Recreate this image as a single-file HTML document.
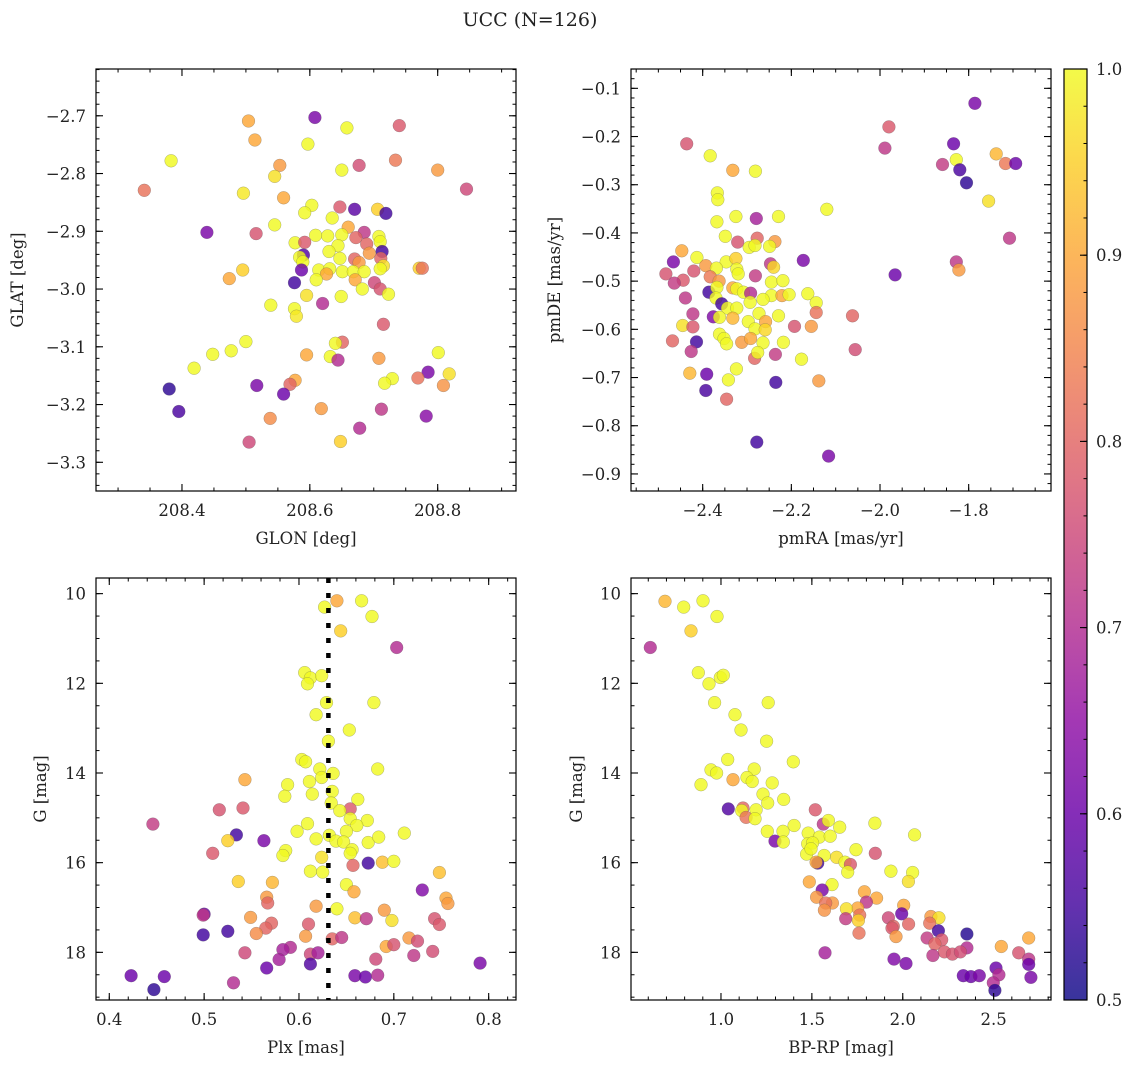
<!DOCTYPE html>
<html><head><meta charset="utf-8">
<style>
html,body{margin:0;padding:0;background:#fff;}
svg{display:block;font-family:"DejaVu Serif","Liberation Serif",serif;}
</style></head>
<body>
<svg id="fig" width="1136" height="1068" viewBox="0 0 1136 1068" xmlns="http://www.w3.org/2000/svg">
<rect width="1136" height="1068" fill="#fff"/>
<text x="530" y="26" font-size="19" text-anchor="middle" fill="#222">UCC (N=126)</text>
</svg>
<script>
// ---- Panel 1: GLON / GLAT ----
const glon = [208.504,208.608,208.658,208.740,208.514,208.597,208.383,208.734,208.553,208.677,208.8,208.650,208.545,208.845,208.341,208.496,208.559,208.603,208.647,208.670,208.706,208.719,208.592,208.635,208.545,208.660,208.439,208.516,208.685,208.609,208.650,208.628,208.708,208.672,208.577,208.592,208.710,208.689,208.644,208.630,208.713,208.590,208.693,208.584,208.647,208.670,208.711,208.589,208.677,208.715,208.771,208.776,208.587,208.614,208.631,208.651,208.668,208.685,208.710,208.626,208.671,208.495,208.474,208.610,208.576,208.701,208.710,208.682,208.723,208.595,208.649,208.620,208.539,208.576,208.579,208.715,208.5,208.651,208.640,208.801,208.448,208.477,208.595,208.632,208.644,208.708,208.419,208.818,208.785,208.769,208.729,208.717,208.809,208.577,208.569,208.380,208.517,208.559,208.395,208.618,208.712,208.782,208.538,208.678,208.505,208.648];
const glat = [-2.709,-2.703,-2.721,-2.717,-2.742,-2.749,-2.778,-2.777,-2.786,-2.786,-2.794,-2.794,-2.805,-2.827,-2.829,-2.834,-2.842,-2.855,-2.858,-2.862,-2.862,-2.869,-2.868,-2.877,-2.889,-2.893,-2.902,-2.904,-2.902,-2.907,-2.906,-2.908,-2.909,-2.911,-2.920,-2.919,-2.918,-2.922,-2.925,-2.935,-2.935,-2.941,-2.938,-2.945,-2.947,-2.948,-2.947,-2.953,-2.954,-2.960,-2.964,-2.964,-2.967,-2.967,-2.965,-2.970,-2.970,-2.970,-2.965,-2.974,-2.984,-2.967,-2.982,-2.984,-2.989,-2.989,-3.000,-3.000,-3.009,-3.011,-3.013,-3.025,-3.028,-3.034,-3.047,-3.061,-3.091,-3.092,-3.094,-3.110,-3.113,-3.107,-3.114,-3.117,-3.123,-3.120,-3.137,-3.147,-3.144,-3.154,-3.155,-3.163,-3.167,-3.158,-3.165,-3.173,-3.167,-3.182,-3.212,-3.207,-3.208,-3.220,-3.224,-3.241,-3.265,-3.264];
const prob1 = [.9,.62,1,.78,.9,1,1,.83,.88,.76,.88,1,.97,.75,.82,.98,.9,1,.78,.58,.95,.55,1,1,1,.9,.62,.77,.72,1,1,1,1,.8,1,.78,1,.8,1,1,.55,.57,.88,1,1,.8,.8,1,.88,.97,.95,.82,.6,1,1,1,1,1,1,.9,.9,.95,.9,1,.55,.75,.77,1,1,.97,1,.7,1,1,.98,.78,1,.8,1,1,1,1,.9,1,.7,.88,1,.97,.62,.82,1,1,.87,.9,.8,.53,.62,.6,.56,.88,.72,.64,.86,.7,.75,.95];

// ---- Panel 2: pmRA / pmDE ----
const pmra = [-1.786,-1.980,-1.989,-2.436,-1.834,-2.383,-1.738,-2.332,-2.281,-1.859,-1.828,-1.717,-1.694,-1.820,-1.805,-2.367,-2.366,-2.120,-1.755,-2.368,-2.325,-2.279,-2.229,-2.349,-2.321,-2.277,-2.237,-2.295,-2.282,-2.249,-1.708,-2.447,-2.466,-2.413,-2.393,-2.347,-2.325,-2.247,-2.240,-2.173,-1.828,-1.822,-2.483,-2.420,-2.369,-2.323,-2.444,-2.464,-2.383,-2.363,-2.320,-2.281,-2.245,-2.219,-1.966,-2.386,-2.368,-2.332,-2.323,-2.308,-2.292,-2.245,-2.221,-2.205,-2.163,-2.439,-2.370,-2.357,-2.293,-2.264,-2.144,-2.344,-2.323,-2.422,-2.376,-2.362,-2.332,-2.273,-2.229,-2.144,-2.062,-2.445,-2.422,-2.297,-2.258,-2.193,-2.155,-2.362,-2.282,-2.259,-2.468,-2.414,-2.352,-2.346,-2.312,-2.292,-2.264,-2.218,-2.426,-2.283,-2.276,-2.236,-2.177,-2.056,-2.324,-2.429,-2.391,-2.342,-2.235,-2.138,-2.393,-2.346,-2.278,-2.116];
const pmde = [-0.131,-0.180,-0.224,-0.215,-0.215,-0.240,-0.236,-0.270,-0.272,-0.258,-0.248,-0.256,-0.256,-0.269,-0.296,-0.317,-0.331,-0.351,-0.334,-0.377,-0.366,-0.370,-0.366,-0.407,-0.419,-0.411,-0.418,-0.430,-0.426,-0.428,-0.411,-0.437,-0.460,-0.451,-0.468,-0.460,-0.453,-0.464,-0.471,-0.457,-0.460,-0.477,-0.485,-0.479,-0.473,-0.475,-0.498,-0.504,-0.491,-0.500,-0.485,-0.489,-0.502,-0.499,-0.487,-0.523,-0.513,-0.514,-0.516,-0.523,-0.525,-0.530,-0.530,-0.528,-0.526,-0.535,-0.535,-0.547,-0.544,-0.538,-0.545,-0.556,-0.556,-0.568,-0.574,-0.575,-0.577,-0.567,-0.572,-0.565,-0.572,-0.592,-0.595,-0.584,-0.584,-0.594,-0.594,-0.610,-0.599,-0.601,-0.624,-0.626,-0.619,-0.630,-0.627,-0.619,-0.628,-0.627,-0.646,-0.660,-0.648,-0.652,-0.662,-0.642,-0.682,-0.691,-0.693,-0.705,-0.710,-0.707,-0.727,-0.745,-0.834,-0.863];
const prob2 = [.62,.78,.72,.77,.6,1,.92,.9,1,.73,1,.83,.6,.56,.53,1,1,1,.97,1,1,.68,1,1,.77,.8,.88,1,1,1,.72,.9,.62,1,.88,1,.95,.72,.96,.62,.72,.88,.77,.77,1,1,.78,.73,.83,.88,1,.73,1,1,.6,.55,1,.9,1,1,.7,1,.9,1,1,.72,1,.55,1,1,1,1,1,.72,.63,1,.92,1,1,.82,.8,.97,.78,1,.9,.77,.88,1,1,.96,.8,.55,1,1,.88,.9,1,1,.72,.8,1,.73,1,.76,1,.92,.6,1,.55,.88,.56,.8,.55,.62];

// ---- Panel 3: Plx / G ----
const plx = [0.640,0.666,0.627,0.677,0.644,0.703,0.606,0.612,0.609,0.624,0.629,0.679,0.618,0.653,0.631,0.603,0.607,0.683,0.622,0.636,0.624,0.543,0.611,0.588,0.635,0.614,0.585,0.634,0.662,0.516,0.541,0.654,0.643,0.654,0.672,0.446,0.609,0.661,0.598,0.650,0.534,0.632,0.711,0.563,0.525,0.618,0.639,0.647,0.673,0.684,0.656,0.586,0.583,0.509,0.654,0.624,0.657,0.673,0.688,0.700,0.612,0.625,0.748,0.536,0.572,0.650,0.658,0.730,0.566,0.567,0.618,0.755,0.757,0.640,0.690,0.500,0.499,0.549,0.659,0.671,0.698,0.743,0.748,0.571,0.565,0.610,0.555,0.499,0.525,0.607,0.635,0.645,0.716,0.725,0.692,0.700,0.591,0.583,0.543,0.612,0.620,0.741,0.721,0.579,0.681,0.791,0.612,0.566,0.423,0.458,0.659,0.670,0.683,0.531,0.447];
const gmag3 = [10.16,10.16,10.30,10.51,10.83,11.20,11.76,11.88,12.01,11.83,12.43,12.43,12.70,13.04,13.29,13.70,13.75,13.91,13.91,14.01,14.10,14.15,14.19,14.26,14.41,14.47,14.52,14.67,14.59,14.82,14.78,14.80,14.84,15.02,15.06,15.14,15.13,15.17,15.30,15.30,15.38,15.39,15.34,15.51,15.51,15.47,15.52,15.54,15.55,15.43,15.71,15.73,15.84,15.79,15.79,15.88,16.06,16.01,15.99,15.97,16.19,16.21,16.22,16.42,16.44,16.49,16.65,16.61,16.77,16.90,16.97,16.79,16.91,17.03,17.06,17.15,17.17,17.22,17.23,17.25,17.29,17.25,17.38,17.35,17.46,17.37,17.58,17.61,17.53,17.64,17.70,17.67,17.68,17.75,17.87,17.83,17.89,17.94,18.01,18.04,18.01,17.98,18.07,18.16,18.15,18.24,18.26,18.35,18.52,18.54,18.52,18.55,18.51,18.68,18.83];
const prob3 = [.9,1,1,1,.95,.7,1,1,1,1,1,1,1,1,1,1,1,1,1,1,1,.9,1,1,1,1,1,1,1,.77,.78,.78,1,1,1,.73,1,1,1,1,.55,1,1,.62,.95,1,1,1,1,1,1,1,1,.78,1,.97,.8,.55,.93,1,1,1,.93,.95,.92,1,.9,.63,.88,.8,.88,.9,.88,1,.88,.6,.72,.88,.93,.72,.97,.77,.78,.8,.8,.78,.86,.55,.55,.88,.8,.72,.88,.76,.9,.77,.7,.68,.75,.75,.68,.76,.72,.68,.75,.62,.57,.6,.6,.6,.62,.6,.7,.7,.53];
const plxMean = [0.631];

// ---- Panel 4: BP-RP / G ----
const bprp = [0.692,0.795,0.901,0.978,0.835,0.611,0.875,0.934,0.996,1.013,1.260,0.965,1.077,1.110,1.251,1.037,1.398,0.945,0.976,1.183,1.143,1.066,1.172,0.890,1.282,1.231,1.257,1.345,1.040,1.121,1.114,1.193,1.138,1.187,1.519,1.563,1.591,1.847,1.653,1.402,1.255,1.341,2.065,1.480,1.541,1.601,1.297,1.343,1.477,1.504,1.743,1.849,1.568,1.471,1.495,1.636,1.532,1.523,1.682,1.712,1.935,2.054,1.697,2.031,1.486,1.611,1.557,1.789,1.526,1.856,1.800,1.613,1.576,2.005,1.752,1.690,1.569,1.994,1.763,2.155,2.199,1.686,1.756,1.921,2.148,2.032,1.948,1.941,1.963,1.759,2.196,2.353,2.134,2.214,2.177,2.353,2.693,2.542,2.229,2.273,2.317,2.166,1.572,2.638,2.693,1.952,2.018,2.693,2.513,2.529,2.333,2.375,2.421,2.705,2.498,2.507];
const gmag4 = [10.17,10.30,10.16,10.51,10.83,11.20,11.76,12.01,11.87,11.82,12.43,12.43,12.70,13.04,13.29,13.70,13.75,13.93,14.00,13.91,14.10,14.15,14.19,14.26,14.22,14.47,14.67,14.59,14.80,14.78,14.84,14.82,14.99,15.02,14.82,15.14,15.06,15.12,15.21,15.17,15.30,15.30,15.38,15.34,15.43,15.41,15.52,15.54,15.58,15.56,15.71,15.79,15.84,15.81,15.69,15.88,16.01,15.99,15.99,16.04,16.19,16.22,16.21,16.42,16.43,16.49,16.61,16.65,16.77,16.79,16.88,16.90,16.90,16.95,17.01,17.03,17.06,17.14,17.17,17.20,17.23,17.25,17.29,17.23,17.35,17.37,17.42,17.46,17.65,17.57,17.52,17.59,17.68,17.72,17.81,17.90,17.68,17.87,17.99,18.04,17.99,18.07,18.01,18.01,18.15,18.15,18.25,18.27,18.35,18.50,18.52,18.54,18.52,18.56,18.68,18.85];
const prob4 = [.92,1,1,1,.95,.7,1,1,1,1,1,1,1,1,1,1,1,1,1,1,1,.9,1,1,1,1,1,1,.57,.8,1,1,.82,1,.78,.72,1,1,1,1,1,1,1,1,1,1,.62,1,1,1,1,.77,1,1,1,.97,.55,.9,1,.78,1,1,1,.97,.9,1,.62,.9,.88,.9,.72,.88,.82,.9,.9,.97,.87,.6,.82,.88,.97,.73,.95,.75,.82,.8,.8,.78,.88,.82,.55,.52,.73,.78,.8,.7,.9,.9,.78,.77,.76,.72,.68,.77,.72,.63,.62,.6,.6,.7,.6,.6,.62,.62,.7,.53];

// ---- Tick labels ----
const p1xTicks = [208.4,208.6,208.8];
const p1yTicks = [-2.7,-2.8,-2.9,-3.0,-3.1,-3.2,-3.3];
const p2xTicks = [-2.4,-2.2,-2.0,-1.8];
const p2yTicks = [-0.1,-0.2,-0.3,-0.4,-0.5,-0.6,-0.7,-0.8,-0.9];
const p3xTicks = [0.4,0.5,0.6,0.7,0.8];
const gTicks = [10,12,14,16,18];
const p4xTicks = [1.0,1.5,2.0,2.5];
const cbTicks = [0.5,0.6,0.7,0.8,0.9,1.0];

const NS = "http://www.w3.org/2000/svg";
const svg = document.getElementById('fig');
function mk(tag, attrs, parent){
  const e = document.createElementNS(NS, tag);
  for (const k in attrs) e.setAttribute(k, attrs[k]);
  (parent||svg).appendChild(e);
  return e;
}
const stops = [[13,8,135],[65,4,157],[106,0,168],[143,13,164],[177,42,144],[204,71,120],[225,100,98],[242,132,75],[252,166,54],[252,206,37],[240,249,33]];
function plasma(t){
  t = Math.max(0, Math.min(1, t)) * 10;
  const i = Math.min(9, Math.floor(t)), f = t - i;
  const a = stops[i], b = stops[i+1];
  return 'rgb(' + [0,1,2].map(k => Math.round(a[k] + (b[k]-a[k])*f)).join(',') + ')';
}
function cmap(p){ return plasma((p - 0.5) / 0.5); }
function fmt(v, d){ const s = v.toFixed(d); return s.replace('-', '\u2212'); }

function panel(cfg){
  const {name, x0, y0, w, h, xmin, xmax, ymin, ymax, invert} = cfg;
  const g = mk('g', {});
  
  
  const sx = v => x0 + (v - xmin) / (xmax - xmin) * w;
  const sy = invert ? (v => y0 + (v - ymin) / (ymax - ymin) * h) : (v => y0 + h - (v - ymin) / (ymax - ymin) * h);
  // points
  const pg = mk('g', {}, g);
  
  
  for (let i = 0; i < cfg.xs.length; i++) {
    const c = mk('circle', {cx: sx(cfg.xs[i]).toFixed(1), cy: sy(cfg.ys[i]).toFixed(1), r: 6.4, fill: cmap(cfg.cs[i]), 'fill-opacity': 0.82, stroke: '#555', 'stroke-opacity': 0.45, 'stroke-width': 0.5}, pg);
    
    
  }
  if (cfg.vline) {
    const l = mk('line', {x1: sx(cfg.vline[0]), x2: sx(cfg.vline[0]), y1: y0, y2: y0 + h, stroke: '#000', 'stroke-width': 4.5, 'stroke-dasharray': '5 10'}, g);
    
    
  }
  // frame
  const fr = mk('rect', {x: x0, y: y0, width: w, height: h, fill: 'none', stroke: '#000', 'stroke-width': 1.2}, g);
  
  
  // minor ticks
  const eps = 1e-9;
  for (let v = Math.ceil(xmin / cfg.xminor) * cfg.xminor; v <= xmax + eps; v += cfg.xminor) {
    const X = sx(v);
    mk('line', {x1: X, x2: X, y1: y0 + h, y2: y0 + h - 3.5, stroke: '#000', 'stroke-width': 1}, g);
    mk('line', {x1: X, x2: X, y1: y0, y2: y0 + 3.5, stroke: '#000', 'stroke-width': 1}, g);
  }
  for (let v = Math.ceil(Math.min(ymin,ymax) / cfg.yminor) * cfg.yminor; v <= Math.max(ymin,ymax) + eps; v += cfg.yminor) {
    const Y = sy(v);
    mk('line', {x1: x0, x2: x0 + 3.5, y1: Y, y2: Y, stroke: '#000', 'stroke-width': 1}, g);
    mk('line', {x1: x0 + w, x2: x0 + w - 3.5, y1: Y, y2: Y, stroke: '#000', 'stroke-width': 1}, g);
  }
  cfg.xt.forEach(v => {
    const X = sx(v);
    mk('line', {x1: X, x2: X, y1: y0 + h, y2: y0 + h - 7, stroke: '#000', 'stroke-width': 1.1}, g);
    mk('line', {x1: X, x2: X, y1: y0, y2: y0 + 7, stroke: '#000', 'stroke-width': 1.1}, g);
    const t = mk('text', {x: X, y: y0 + h + 25, 'font-size': 16.5, 'text-anchor': 'middle', fill: '#222'}, g);
    t.textContent = fmt(v, cfg.xd);
    
    
  });
  cfg.yt.forEach(v => {
    const Y = sy(v);
    mk('line', {x1: x0, x2: x0 + 7, y1: Y, y2: Y, stroke: '#000', 'stroke-width': 1.1}, g);
    mk('line', {x1: x0 + w, x2: x0 + w - 7, y1: Y, y2: Y, stroke: '#000', 'stroke-width': 1.1}, g);
    const t = mk('text', {x: x0 - 10, y: Y + 6, 'font-size': 16.5, 'text-anchor': 'end', fill: '#222'}, g);
    t.textContent = fmt(v, cfg.yd);
    
    
  });
  const xl = mk('text', {x: x0 + w / 2, y: y0 + h + 53, 'font-size': 16.5, 'text-anchor': 'middle', fill: '#222'}, g);
  xl.textContent = cfg.xlabel;
  
  
  const yl = mk('text', {x: 0, y: 0, 'font-size': 16.5, 'text-anchor': 'middle', fill: '#222', transform: 'translate(' + cfg.ylx + ',' + (y0 + h / 2) + ') rotate(-90)'}, g);
  yl.textContent = cfg.ylabel;
  
  
}

panel({name:'glon-glat-panel', x0:96, y0:69, w:420, h:422, xmin:208.2655, xmax:208.9225, ymin:-3.3497, ymax:-2.619,
  xs:glon, ys:glat, cs:prob1, xt:p1xTicks, yt:p1yTicks, xd:1, yd:1, xminor:0.05, yminor:0.02, xlabel:'GLON [deg]', ylabel:'GLAT [deg]', ylx:23});
panel({name:'pm-panel', x0:631, y0:69, w:420, h:422, xmin:-2.5617, xmax:-1.6143, ymin:-0.9354, ymax:-0.0599,
  xs:pmra, ys:pmde, cs:prob2, xt:p2xTicks, yt:p2yTicks, xd:1, yd:1, xminor:0.05, yminor:0.02, xlabel:'pmRA [mas/yr]', ylabel:'pmDE [mas/yr]', ylx:560});
panel({name:'plx-g-panel', x0:96, y0:578, w:420, h:422, xmin:0.386, xmax:0.8288, ymin:9.651, ymax:19.063, invert:true,
  xs:plx, ys:gmag3, cs:prob3, xt:p3xTicks, yt:gTicks, xd:1, yd:0, xminor:0.02, yminor:0.5, xlabel:'Plx [mas]', ylabel:'G [mag]', ylx:46, vline:plxMean});
panel({name:'cmd-panel', x0:631, y0:578, w:420, h:422, xmin:0.505, xmax:2.8155, ymin:9.651, ymax:19.063, invert:true,
  xs:bprp, ys:gmag4, cs:prob4, xt:p4xTicks, yt:gTicks, xd:1, yd:0, xminor:0.1, yminor:0.5, xlabel:'BP-RP [mag]', ylabel:'G [mag]', ylx:582});

// colorbar
(function(){
  const cx = 1064, cy = 69, cw = 23, ch = 931;
  const g = mk('g', {});
  
  
  const defs = mk('defs', {}, g);
  const lg = mk('linearGradient', {id: 'cbg', x1: 0, y1: 1, x2: 0, y2: 0}, defs);
  for (let i = 0; i <= 20; i++) mk('stop', {offset: i / 20, 'stop-color': plasma(i / 20), 'stop-opacity': 0.82}, lg);
  mk('rect', {x: cx, y: cy, width: cw, height: ch, fill: 'url(#cbg)'}, g);
  mk('rect', {x: cx, y: cy, width: cw, height: ch, fill: 'none', stroke: '#000', 'stroke-width': 1.2}, g);
  const sy = v => cy + ch - (v - 0.5) / 0.5 * ch;
  for (let v = 0.5; v <= 1.0001; v += 0.02) {
    mk('line', {x1: cx + cw, x2: cx + cw - 3.5, y1: sy(v), y2: sy(v), stroke: '#000', 'stroke-width': 1}, g);
  }
  cbTicks.forEach(v => {
    mk('line', {x1: cx + cw, x2: cx + cw - 7, y1: sy(v), y2: sy(v), stroke: '#000', 'stroke-width': 1.1}, g);
    const t = mk('text', {x: cx + cw + 9, y: sy(v) + 6, 'font-size': 16.5, fill: '#222'}, g);
    t.textContent = v.toFixed(1);
    
    
  });
})();
</script>
</body></html>
